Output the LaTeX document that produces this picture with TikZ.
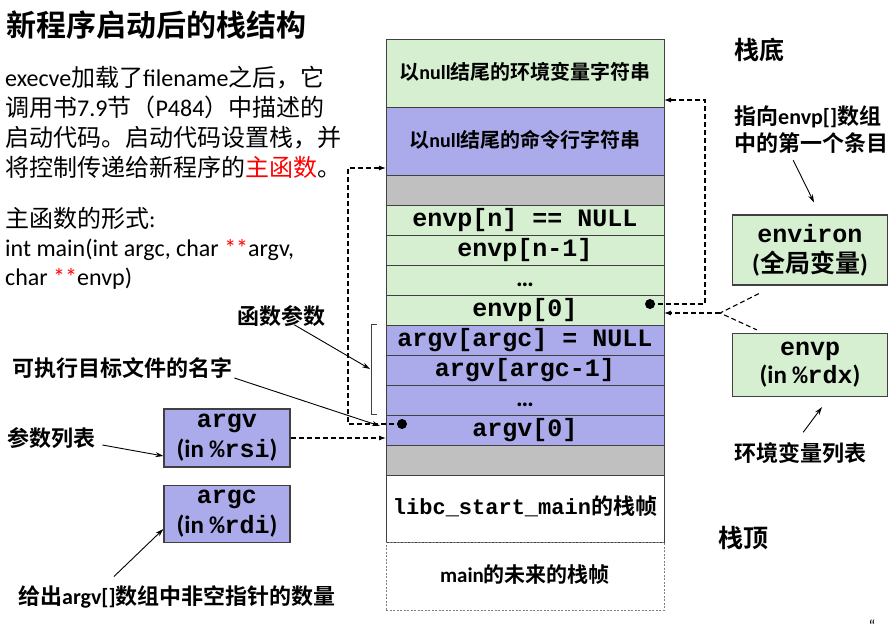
\documentclass[tikz,border=0pt]{standalone}
\usepackage{fontspec}
\setmainfont{Noto Sans CJK SC}[BoldFont={Noto Sans CJK SC Bold}]
\setmonofont{Liberation Mono}
\newfontfamily\lat{Carlito}
\usetikzlibrary{arrows.meta, positioning}
\definecolor{envgreen}{RGB}{214, 239, 208}
\definecolor{argblue}{RGB}{171, 171, 235}
\definecolor{padgrey}{RGB}{192, 192, 192}
\definecolor{edgegrey}{RGB}{64, 64, 64}
\newcommand{\code}[1]{{\ttfamily\bfseries #1}}

\begin{document}
\begin{tikzpicture}[
    x=1pt, y=-1pt,
    stackrow/.style={
        rectangle, draw=edgegrey, line width=0.9pt, minimum width=278pt, minimum height=30pt,
        inner sep=0pt, outer sep=0pt, text height=17pt, text depth=5pt,
        font=\ttfamily\bfseries\fontsize{25pt}{25pt}\selectfont
    },
    cjkrow/.style={font=\bfseries\fontsize{20pt}{20pt}\selectfont},
    regbox/.style={
        rectangle, draw=edgegrey, line width=1.2pt, minimum width=126pt, align=center,
        inner sep=0pt, font=\bfseries\fontsize{25pt}{30pt}\selectfont
    },
    note/.style={font=\bfseries\fontsize{22pt}{27pt}\selectfont, inner sep=2pt, align=left},
    notearrow/.style={-{Stealth[length=8pt,width=5pt]}, line width=0.9pt},
    ptrline/.style={dash pattern=on 5pt off 3pt, line width=1.1pt},
    ptrarrow/.style={ptrline, -{Latex[length=7pt,width=5pt]}},
    dot/.style={circle, fill, inner sep=0pt, minimum size=10pt}
]
\useasboundingbox (0,0) rectangle (892,635);

% Stack
\node[stackrow, cjkrow, fill=envgreen, minimum height=68pt, anchor=north] (envstr) at (525,39) {以{\lat null}结尾的环境变量字符串};
\node[stackrow, cjkrow, fill=argblue, minimum height=68pt, below=0pt of envstr] (argstr) {以{\lat null}结尾的命令行字符串};
\node[stackrow, fill=padgrey, below=0pt of argstr] (padtop) {};
\node[stackrow, fill=envgreen, below=0pt of padtop] (envpn) {envp[n] == NULL};
\node[stackrow, fill=envgreen, below=0pt of envpn] (envpm) {envp[n-1]};
\node[stackrow, fill=envgreen, below=0pt of envpm] (envpdots) {\lat\ldots};
\node[stackrow, fill=envgreen, below=0pt of envpdots] (envp0) {envp[0]};
\node[stackrow, fill=argblue, below=0pt of envp0] (argvn) {argv[argc] = NULL};
\node[stackrow, fill=argblue, below=0pt of argvn] (argvm) {argv[argc-1]};
\node[stackrow, fill=argblue, below=0pt of argvm] (argvdots) {\lat\ldots};
\node[stackrow, fill=argblue, below=0pt of argvdots] (argv0) {argv[0]};
\node[stackrow, fill=padgrey, below=0pt of argv0] (padbot) {};
\node[stackrow, fill=white, minimum height=67pt, below=0pt of padbot, font=\bfseries\fontsize{22pt}{22pt}\selectfont] (libcframe) {\code{libc\_start\_main}的栈帧};
\node[stackrow, cjkrow, draw=gray, dash pattern=on 2pt off 1.5pt, line width=0.8pt, minimum height=68pt, below=0pt of libcframe, font=\bfseries\fontsize{21pt}{21pt}\selectfont] (mainframe) {{\lat main}的未来的栈帧};

% Left text
\node[anchor=west, inner sep=0pt, font=\bfseries\fontsize{30pt}{30pt}\selectfont] (title) at (6,25) {新程序启动后的栈结构};
\node[anchor=north west, align=left, inner sep=0pt, font=\fontsize{24pt}{30pt}\selectfont] (intro) at (5,66)
    {{\lat execve}加载了{\lat filename}之后，它\\调用书{\lat 7.9}节（{\lat P484}）中描述的\\启动代码。启动代码设置栈，并\\将控制传递给新程序的\textcolor{red}{主函数}。};
\node[anchor=north west, align=left, inner sep=0pt, font=\fontsize{24pt}{29pt}\selectfont] (mainsig) at (5,207)
    {主函数的形式{\lat :}\\{\lat int main(int argc, char \textcolor{red}{**}argv,}\\{\lat char \textcolor{red}{**}envp)}};

% Registers
\node[regbox, fill=argblue, minimum height=58pt] (argvreg) at (227,438) {\code{argv}\\{\lat (in }\code{\%rsi}{\lat )}};
\node[regbox, fill=argblue, minimum height=57pt] (argcreg) at (227,514) {\code{argc}\\{\lat (in }\code{\%rdi}{\lat )}};
\node[regbox, fill=envgreen, minimum width=155pt, minimum height=70pt] (environ) at (810,250) {\code{environ}\\{\lat (}全局变量{\lat )}};
\node[regbox, fill=envgreen, minimum width=155pt, minimum height=63pt, font=\bfseries\fontsize{25pt}{28pt}\selectfont] (envp) at (810,365) {\code{envp}\\{\lat (in }\code{\%rdx}{\lat )}};

% Labels
\node[note, anchor=west] (fnargs) at (235,316) {函数参数};
\node[note, anchor=west] (exename) at (10,368) {可执行目标文件的名字};
\node[note, anchor=west] (arglist) at (5,438) {参数列表};
\node[note, anchor=west] (argcnote) at (16,597) {给出{\lat argv[]}数组中非空指针的数量};
\node[note, anchor=west, font=\bfseries\fontsize{25pt}{25pt}\selectfont] (stackbase) at (732,50) {栈底};
\node[note, anchor=north west] (envnote) at (732,104) {指向{\lat envp[]}数组\\中的第一个条目};
\node[note, anchor=west] (envlist) at (732,453) {环境变量列表};
\node[note, anchor=west, font=\bfseries\fontsize{25pt}{25pt}\selectfont] (stacktop) at (716,538) {栈顶};
\node[anchor=north, inner sep=0pt, font=\lat\fontsize{16pt}{16pt}\selectfont] (quote) at (872,620) {“};

% Bracket
\draw[line width=0.9pt, edgegrey] (377,324) -- (371,324) -- (371,414) -- (377,414);
\coordinate (brmid) at (370,369);

% Pointers
\coordinate (envturn) at (705,100);
\coordinate (argturn) at (348,168);
\coordinate (merge) at (720,313);
\draw[ptrarrow] ([xshift=-14pt,yshift=6pt]envp0.east) -| (envturn) -- (envturn -| envstr.east);
\draw[ptrarrow] ([xshift=16pt,yshift=6pt]argv0.west) -| (argturn) -- (argturn -| argstr.west);
\draw[ptrline] ([xshift=27pt,yshift=-8pt]environ.south west) -- (merge) -- ([xshift=25pt,yshift=3pt]envp.north west);
\draw[ptrarrow] (merge) -- (merge -| envp0.east);
\draw[ptrarrow] (argvreg.east) -- (argvreg.east -| argv0.west);
\node[dot] (envdot) at ([xshift=-14pt,yshift=6pt]envp0.east) {};
\node[dot] (argdot) at ([xshift=16pt,yshift=6pt]argv0.west) {};

% Notes
\draw[notearrow] ([xshift=13pt,yshift=4pt]fnargs.south) -- (brmid);
\draw[notearrow] ([yshift=-10pt]exename.east) -- ([xshift=-6pt,yshift=4pt]argv0.west);
\draw[notearrow] ([xshift=5pt,yshift=-7pt]arglist.east) -- ([yshift=-18pt]argvreg.west);
\draw[notearrow] ([xshift=-63pt,yshift=7pt]argcnote.north) -- ([yshift=-15pt]argcreg.west);
\draw[notearrow] ([xshift=-18pt,yshift=-4pt]envnote.south) -- ([xshift=4pt,yshift=12pt]environ.north);
\draw[notearrow] ([xshift=3pt,yshift=8pt]envlist.north) -- ([xshift=12pt,yshift=-10pt]envp.south);

\end{tikzpicture}
\end{document}
